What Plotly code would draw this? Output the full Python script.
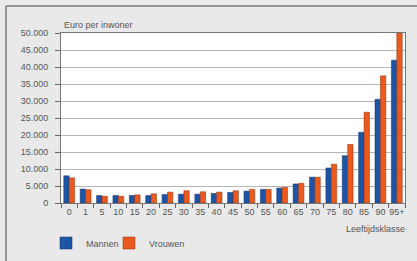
import plotly.graph_objects as go

categories = ["0", "1", "5", "10", "15", "20", "25", "30", "35", "40", "45",
              "50", "55", "60", "65", "70", "75", "80", "85", "90", "95+"]
mannen = [8000, 4100, 2200, 2200, 2200, 2200, 2500, 2600, 2600, 2800, 3100,
          3500, 4000, 4400, 5600, 7600, 10300, 13900, 20800, 30500, 42000]
vrouwen = [7400, 3900, 2000, 2000, 2400, 2700, 3200, 3600, 3300, 3200, 3600,
           4000, 4000, 4600, 5800, 7600, 11400, 17200, 26700, 37400, 50000]
y_ticks = [0, 5000, 10000, 15000, 20000, 25000, 30000, 35000, 40000, 45000, 50000]

W, H = 417, 261
L, R, T, B = 61, 12, 33, 58
pw = W - L - R
ph = H - T - B

font = dict(family="Liberation Sans, Arial, sans-serif", size=9, color="#555555")

fig = go.Figure()
fig.add_trace(go.Bar(x=categories, y=mannen, name="Mannen", legend="legend",
                     marker=dict(color="#1d55a6", line=dict(color="#0e2f66", width=0.5))))
fig.add_trace(go.Bar(x=categories, y=vrouwen, name="Vrouwen", legend="legend2",
                     marker=dict(color="#ea5a1e", line=dict(color="#8a2e0c", width=0.5))))

def px_x(x):
    return (x - L) / pw

def px_y(y):
    return (H - B - y) / ph

leg_common = dict(orientation="h", xref="container", yref="container", y=1 - 243 / H,
                  xanchor="left", yanchor="middle", bgcolor="rgba(0,0,0,0)", font=font,
                  itemwidth=30)

fig.update_layout(
    width=W, height=H,
    margin=dict(l=L, r=R, t=T, b=B, autoexpand=False),
    paper_bgcolor="#e9e9e9",
    plot_bgcolor="#ffffff",
    font=font,
    separators=",.",
    barmode="group",
    bargap=0.34,
    bargroupgap=0.0,
    showlegend=True,
    legend=dict(x=46 / W, **leg_common),
    legend2=dict(x=109 / W, **leg_common),
    xaxis=dict(type="category", tickson="boundaries", ticks="outside", ticklen=4,
               tickangle=0, tickcolor="#666666", showline=True, linecolor="#777777",
               mirror=True, showgrid=False, tickfont=font),
    yaxis=dict(range=[0, 50000], tickvals=y_ticks, tickformat=",d", ticks="outside",
               ticklen=5, ticklabelstandoff=5, tickcolor="#666666", showline=True,
               linecolor="#777777", mirror=True, showgrid=True, gridcolor="#b5b5b5",
               gridwidth=1, zeroline=False, tickfont=font),
    annotations=[
        dict(text="Euro per inwoner", xref="paper", yref="paper", x=px_x(62), y=px_y(25),
             xanchor="left", yanchor="middle", showarrow=False, font=font),
        dict(text="Leeftijdsklasse", xref="paper", yref="paper", x=px_x(407), y=px_y(229),
             xanchor="right", yanchor="middle", showarrow=False, font=font),
    ],
    shapes=[
        dict(type="line", xref="paper", yref="paper", x0=px_x(6), x1=px_x(W), y0=px_y(6), y1=px_y(6),
             line=dict(color="#777777", width=1.5)),
        dict(type="line", xref="paper", yref="paper", x0=px_x(6), x1=px_x(6), y0=px_y(6), y1=px_y(H),
             line=dict(color="#777777", width=1.5)),
    ],
)

fig.write_html("out.html", config={"displayModeBar": False},
               post_script="document.body.style.margin='0';document.body.style.background='#e9e9e9';")
